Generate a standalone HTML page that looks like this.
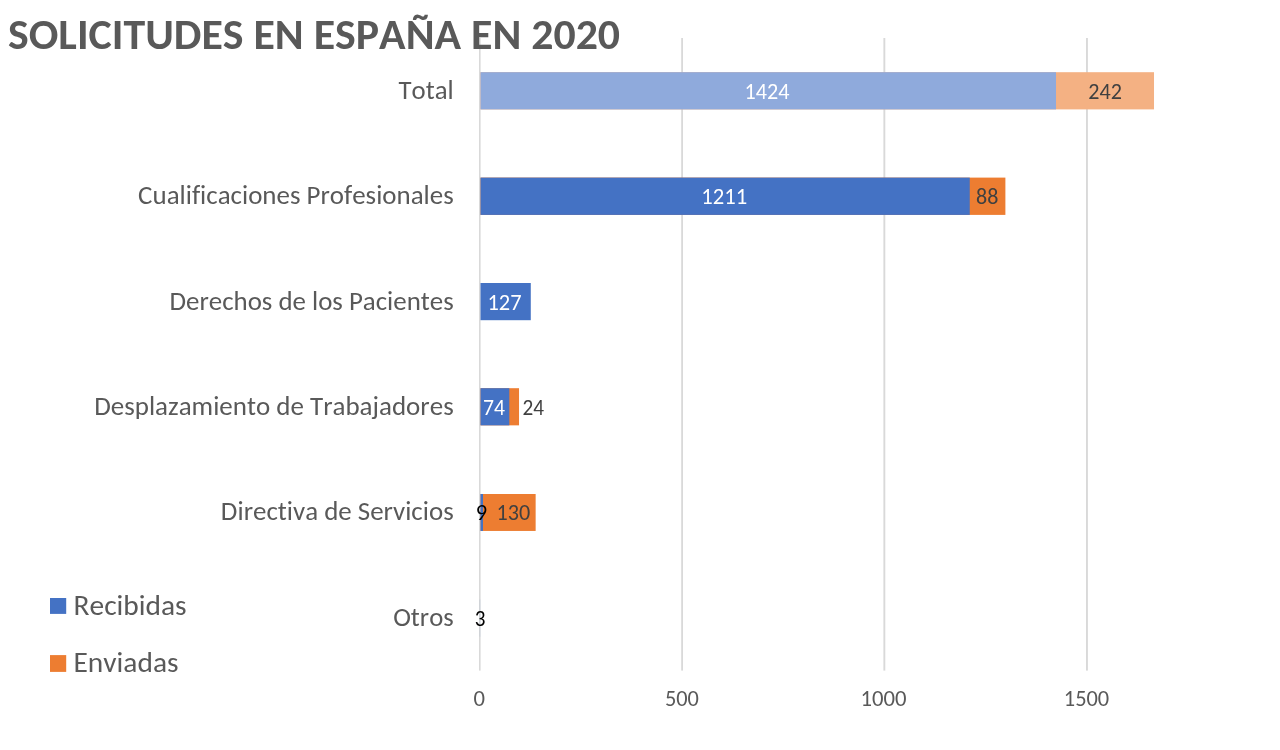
<!DOCTYPE html>
<html lang="es">
<head>
<meta charset="utf-8">
<title>Solicitudes en España en 2020</title>
<style>
html,body{margin:0;padding:0;background:#fff;}
body{width:1280px;height:750px;position:relative;overflow:hidden;}
svg{position:absolute;left:0;top:0;display:block;}
.txt{will-change:transform;font-family:Carlito,Calibri,"Liberation Sans",Arial,sans-serif;font-kerning:none;font-variant-ligatures:none;font-size-adjust:0.4775;}
.txt .tt{font-weight:bold;font-size-adjust:0.4849;}
</style>
</head>
<body>
<svg class="chart" width="1280" height="750" viewBox="0 0 1280 750">
<g fill="#d9d9d9">
<rect x="479" y="38" width="1.6" height="632.6"/>
<rect x="681.2" y="38" width="1.8" height="632.6"/>
<rect x="883.4" y="38" width="1.9" height="632.6"/>
<rect x="1086" y="38" width="1.9" height="632.6"/>
</g>
<rect x="480.5" y="72.2" width="673.51" height="37.2" fill="#f4b183"/>
<rect x="480.5" y="72.2" width="575.51" height="37.2" fill="#8faadc"/>
<rect x="480.5" y="177.6" width="524.89" height="37.3" fill="#ed7d31"/>
<rect x="480.5" y="177.6" width="489.26" height="37.3" fill="#4472c4"/>
<rect x="480.5" y="283.0" width="50.28" height="37.2" fill="#4472c4"/>
<rect x="480.5" y="388.2" width="38.54" height="37.15" fill="#ed7d31"/>
<rect x="480.5" y="388.2" width="28.82" height="37.15" fill="#4472c4"/>
<rect x="480.5" y="494.0" width="55.14" height="36.95" fill="#ed7d31"/>
<rect x="480.5" y="494.0" width="2.49" height="36.95" fill="#4472c4"/>
<rect x="479" y="599.4" width="2" height="37.3" fill="#4472c4" fill-opacity="0.05"/>
<rect x="50" y="598" width="16.2" height="15.9" fill="#4472c4"/>
<rect x="50" y="655.1" width="16.2" height="16.8" fill="#ed7d31"/>
</svg>
<svg class="txt" width="1280" height="750" viewBox="0 0 1280 750">
<text class="tt" x="8" y="49" font-size="43" fill="#595959" textLength="612.1" lengthAdjust="spacingAndGlyphs">SOLICITUDES EN ESPAÑA EN 2020</text>
<text class="c" x="453.7" y="99" font-size="26.2" fill="#595959" text-anchor="end" textLength="55.14" lengthAdjust="spacingAndGlyphs">Total</text>
<text class="c" x="453.7" y="204" font-size="26.2" fill="#595959" text-anchor="end" textLength="315.56" lengthAdjust="spacingAndGlyphs">Cualificaciones Profesionales</text>
<text class="c" x="453.7" y="310" font-size="26.2" fill="#595959" text-anchor="end" textLength="284.24" lengthAdjust="spacingAndGlyphs">Derechos de los Pacientes</text>
<text class="c" x="453.7" y="415" font-size="26.2" fill="#595959" text-anchor="end" textLength="359.5" lengthAdjust="spacingAndGlyphs">Desplazamiento de Trabajadores</text>
<text class="c" x="453.7" y="520" font-size="26.2" fill="#595959" text-anchor="end" textLength="232.81" lengthAdjust="spacingAndGlyphs">Directiva de Servicios</text>
<text class="c" x="453.7" y="626" font-size="26.2" fill="#595959" text-anchor="end" textLength="60.53" lengthAdjust="spacingAndGlyphs">Otros</text>
<text class="d" x="767" y="99" font-size="22" fill="#ffffff" text-anchor="middle" textLength="44.92" lengthAdjust="spacingAndGlyphs">1424</text>
<text class="d" x="1105.05" y="99" font-size="22" fill="#404040" text-anchor="middle" textLength="33.65" lengthAdjust="spacingAndGlyphs">242</text>
<text class="d" x="724.3" y="204" font-size="22" fill="#ffffff" text-anchor="middle" textLength="45.95" lengthAdjust="spacingAndGlyphs">1211</text>
<text class="d" x="987.2" y="204" font-size="22" fill="#404040" text-anchor="middle" textLength="22.31" lengthAdjust="spacingAndGlyphs">88</text>
<text class="d" x="504.5" y="309.5" font-size="22" fill="#ffffff" text-anchor="middle" textLength="34.12" lengthAdjust="spacingAndGlyphs">127</text>
<text class="d" x="494" y="415" font-size="22" fill="#ffffff" text-anchor="middle" textLength="21.98" lengthAdjust="spacingAndGlyphs">74</text>
<text class="d" x="533.2" y="415" font-size="22" fill="#404040" text-anchor="middle" textLength="21.55" lengthAdjust="spacingAndGlyphs">24</text>
<text class="d" x="481.4" y="520" font-size="22" fill="#000000" text-anchor="middle" textLength="11.38" lengthAdjust="spacingAndGlyphs">9</text>
<text class="d" x="513.3" y="520" font-size="22" fill="#404040" text-anchor="middle" textLength="33.65" lengthAdjust="spacingAndGlyphs">130</text>
<text class="d" x="480.05" y="626" font-size="22" fill="#000000" text-anchor="middle" textLength="10.71" lengthAdjust="spacingAndGlyphs">3</text>
<text class="d" x="479.3" y="706" font-size="22" fill="#595959" text-anchor="middle" textLength="11.49" lengthAdjust="spacingAndGlyphs">0</text>
<text class="d" x="681.9" y="706" font-size="22" fill="#595959" text-anchor="middle" textLength="33.99" lengthAdjust="spacingAndGlyphs">500</text>
<text class="d" x="883.6" y="706" font-size="22" fill="#595959" text-anchor="middle" textLength="46.08" lengthAdjust="spacingAndGlyphs">1000</text>
<text class="d" x="1086.5" y="706" font-size="22" fill="#595959" text-anchor="middle" textLength="45.46" lengthAdjust="spacingAndGlyphs">1500</text>
<text class="l" x="73.5" y="615" font-size="29.2" fill="#595959" textLength="113.15" lengthAdjust="spacingAndGlyphs">Recibidas</text>
<text class="l" x="73.5" y="672" font-size="29.2" fill="#595959" textLength="105.02" lengthAdjust="spacingAndGlyphs">Enviadas</text>
</svg>
</body>
</html>
